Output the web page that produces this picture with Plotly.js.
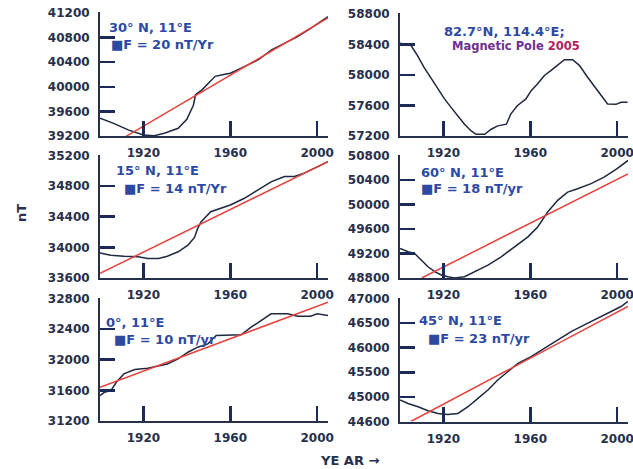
<!DOCTYPE html>
<html>
<head>
<meta charset="utf-8">
<script src="https://cdn.plot.ly/plotly-3.0.1.min.js"></script>
<style>html,body{margin:0;padding:0;background:#fff;}#chart{width:633px;height:469px;}</style>
</head>
<body>
<div id="chart"></div>
<script>
// ---- data ----
const xTicks = [1920, 1960, 2000];

// 30°N, 11°E
const n30Year = [1900, 1906, 1913, 1920, 1925, 1930, 1936, 1940, 1943, 1944, 1947, 1950, 1953, 1957, 1960, 1966, 1973, 1979, 1985, 1991, 1997, 2005];
const n30F    = [39490, 39410, 39300, 39215, 39205, 39250, 39325, 39470, 39700, 39870, 39950, 40060, 40170, 40200, 40220, 40320, 40440, 40600, 40710, 40815, 40950, 41140];
const n30TrendYear = [1912, 2005];
const n30TrendF    = [39195, 41120];
const n30Ticks = [39200, 39600, 40000, 40400, 40800, 41200];

// 82.7°N, 114.4°E (magnetic pole 2005)
const poleYear = [1900, 1905, 1908, 1911, 1914, 1917.5, 1920.5, 1923.5, 1926.7, 1929.7, 1932.8, 1935, 1939, 1942, 1945, 1949, 1951, 1954, 1958, 1960.4, 1963.4, 1966.5, 1969.6, 1972.6, 1975.7, 1979.5, 1982.6, 1986.4, 1991, 1995.6, 1999.5, 2001.8, 2004.8];
const poleF    = [58417, 58390, 58258, 58103, 57971, 57818, 57686, 57575, 57465, 57355, 57266, 57223, 57223, 57289, 57333, 57355, 57487, 57597, 57686, 57795, 57884, 57994, 58060, 58126, 58201, 58201, 58126, 57971, 57795, 57620, 57615, 57641, 57641];
const poleTicks = [57200, 57600, 58000, 58400, 58800];

// 15°N, 11°E
const n15Year = [1900, 1905, 1911, 1917.5, 1922, 1927, 1931, 1936, 1940.5, 1943.5, 1945, 1946.6, 1951, 1956, 1960, 1966.5, 1972.6, 1979, 1985, 1989.5, 1994, 1998.7, 2005];
const n15F    = [33925, 33898, 33885, 33876, 33855, 33855, 33885, 33942, 34029, 34130, 34248, 34335, 34466, 34510, 34554, 34641, 34750, 34859, 34925, 34925, 34969, 35035, 35120];
const n15TrendYear = [1900, 2005];
const n15TrendF    = [33660, 35120];
const n15Ticks = [33600, 34000, 34400, 34800, 35200];

// 60°N, 11°E
const n60Year = [1900, 1903.7, 1906.7, 1909.8, 1912.9, 1916, 1919, 1922, 1925, 1929.7, 1934.3, 1940.5, 1946.6, 1952.7, 1958.9, 1963.4, 1968, 1972.6, 1977.2, 1981.8, 1988, 1994, 2000, 2005];
const n60F    = [49283, 49228, 49201, 49093, 48984, 48903, 48849, 48821, 48800, 48821, 48903, 49011, 49146, 49309, 49472, 49634, 49878, 50068, 50203, 50258, 50340, 50447, 50584, 50719];
const n60TrendYear = [1910, 2005];
const n60TrendF    = [48800, 50500];
const n60Ticks = [48800, 49200, 49600, 50000, 50400, 50800];

// 0°, 11°E
const eqYear = [1900, 1902, 1905, 1907.5, 1911, 1916, 1922, 1927, 1931, 1936, 1940.5, 1945, 1949.7, 1953.5, 1960.4, 1965, 1969.6, 1974.2, 1978.8, 1986.4, 1991, 1997, 2000, 2005];
const eqF    = [31532, 31575, 31597, 31706, 31815, 31872, 31889, 31915, 31945, 32011, 32098, 32164, 32207, 32316, 32316, 32325, 32425, 32512, 32599, 32599, 32569, 32569, 32599, 32578];
const eqTrendYear = [1900, 2005];
const eqTrendF    = [31640, 32750];
const eqTicks = [31200, 31600, 32000, 32400, 32800];

// 45°N, 11°E
const n45Year = [1900, 1903.7, 1908.3, 1912.9, 1917.5, 1922, 1926.7, 1931.3, 1935.9, 1940.5, 1945, 1949.7, 1954.3, 1960.4, 1966.5, 1972.6, 1978.8, 1984.9, 1991, 1997.2, 2001.8, 2005];
const n45F    = [44936, 44867, 44800, 44719, 44664, 44643, 44664, 44800, 44969, 45140, 45344, 45513, 45682, 45819, 45988, 46159, 46328, 46464, 46599, 46735, 46837, 46940];
const n45TrendYear = [1905, 2005];
const n45TrendF    = [44500, 46840];
const n45Ticks = [44500, 45000, 45500, 46000, 46500, 47000];
const n45TickText = ['44600', '45000', '45500', '46000', '46500', '47000'];

// ---- styling ----
const W = 633, H = 469;
const NAVY = '#27304c';
const TICK = '#1c2a5a';
const CURVE = '#1f2840';
const RED = '#e8413b';
const BLUE = '#2d4aa3';
const tickFont = {family: 'DejaVu Sans', size: 12, color: NAVY, weight: 'bold'};

function px(x) { return x / W; }
function py(y) { return 1 - y / H; }

const panels = [
  {year: n30Year, F: n30F, tY: n30TrendYear, tF: n30TrendF, ticks: n30Ticks, x0: 100, x1: 328, y0: 12, y1: 136},
  {year: poleYear, F: poleF, tY: null, tF: null, ticks: poleTicks, x0: 400, x1: 628, y0: 13, y1: 136},
  {year: n15Year, F: n15F, tY: n15TrendYear, tF: n15TrendF, ticks: n15Ticks, x0: 100, x1: 328, y0: 154.5, y1: 278},
  {year: n60Year, F: n60F, tY: n60TrendYear, tF: n60TrendF, ticks: n60Ticks, x0: 400, x1: 628, y0: 154.5, y1: 278},
  {year: eqYear, F: eqF, tY: eqTrendYear, tF: eqTrendF, ticks: eqTicks, x0: 100, x1: 328, y0: 297.5, y1: 421},
  {year: n45Year, F: n45F, tY: n45TrendYear, tF: n45TrendF, ticks: n45Ticks, tickText: n45TickText, x0: 400, x1: 628, y0: 297.5, y1: 421.5}
];

const traces = [];
const layout = {
  width: W, height: H,
  margin: {l: 0, r: 0, t: 0, b: 0},
  paper_bgcolor: '#ffffff', plot_bgcolor: '#ffffff',
  showlegend: false,
  annotations: []
};

panels.forEach((p, i) => {
  const n = i + 1;
  const xa = n === 1 ? 'x' : 'x' + n;
  const ya = n === 1 ? 'y' : 'y' + n;
  traces.push({x: p.year, y: p.F, xaxis: xa, yaxis: ya, type: 'scatter', mode: 'lines',
    line: {color: CURVE, width: 1.5}});
  if (p.tY) {
    traces.push({x: p.tY, y: p.tF, xaxis: xa, yaxis: ya, type: 'scatter', mode: 'lines',
      line: {color: RED, width: 1.5}});
  }
  const lo = p.ticks[0], hi = p.ticks[p.ticks.length - 1];
  const pad = (hi - lo) * 0.008; // keeps the top tick visible at the axis end
  const xKey = n === 1 ? 'xaxis' : 'xaxis' + n;
  const yKey = n === 1 ? 'yaxis' : 'yaxis' + n;
  layout[xKey] = {
    domain: [px(p.x0), px(p.x1)], anchor: ya, range: [1900, 2005],
    showgrid: false, zeroline: false, showline: true, linecolor: NAVY, linewidth: 2,
    ticks: 'inside', ticklen: 15, tickwidth: 2.5, tickcolor: TICK,
    tickmode: 'array', tickvals: xTicks, ticktext: xTicks.map(String),
    tickfont: tickFont, ticklabelstandoff: 5, ticklabeloverflow: 'allow'
  };
  layout[yKey] = {
    domain: [py(p.y1), py(p.y0)], anchor: xa,
    range: [lo, hi + pad],
    showgrid: false, zeroline: false, showline: true, linecolor: NAVY, linewidth: 2,
    ticks: 'inside', ticklen: 15, tickwidth: 2.5, tickcolor: TICK,
    tickmode: 'array', tickvals: p.ticks, ticktext: p.tickText || p.ticks.map(String),
    tickfont: tickFont, ticklabelstandoff: 6, ticklabeloverflow: 'allow'
  };
});

function note(text, x, y, opts) {
  layout.annotations.push(Object.assign({
    text: text, xref: 'paper', yref: 'paper', x: px(x), y: py(y),
    xanchor: 'left', yanchor: 'middle', showarrow: false,
    font: {family: 'DejaVu Sans', size: 13, color: BLUE, weight: 'bold'}
  }, opts || {}));
}

note('30° N, 11°E', 107, 27);
note('■F = 20 nT/Yr', 109, 45);
note('82.7°N, 114.4°E;', 442, 32);
note('Magnetic Pole <span style="color:#b0245e">2005</span>', 450, 46,
  {font: {family: 'DejaVu Sans', size: 11.5, color: '#6e2f8f', weight: 'bold'}});
note('15° N, 11°E', 114, 170);
note('■F = 14 nT/Yr', 122, 188);
note('60° N, 11°E', 419, 172);
note('■F = 18 nT/yr', 419, 188);
note('0°, 11°E', 104, 322);
note('■F = 10 nT/yr', 112, 339);
note('45° N, 11°E', 417, 320);
note('■F = 23 nT/yr', 426, 338);

note('nT', 21, 213, {xanchor: 'center', textangle: -90,
  font: {family: 'DejaVu Sans', size: 13, color: NAVY, weight: 'bold'}});
note('YE AR →', 318, 460, {font: {family: 'DejaVu Sans', size: 13, color: NAVY, weight: 'bold'}});

Plotly.newPlot('chart', traces, layout, {staticPlot: true});
</script>
</body>
</html>
